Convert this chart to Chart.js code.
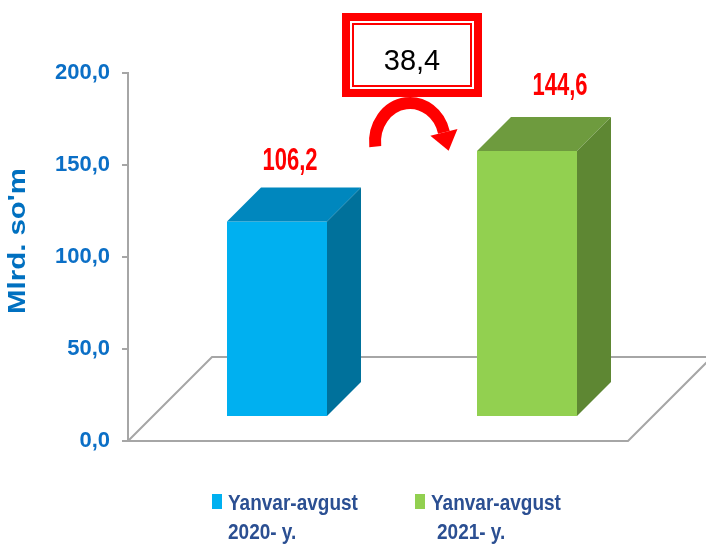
<!DOCTYPE html>
<html>
<head>
<meta charset="utf-8">
<script src="https://cdn.jsdelivr.net/npm/chart.js@4"></script>
<style>
  html, body { margin: 0; padding: 0; background: #fff; }
</style>
</head>
<body>
<canvas id="myChart" width="706" height="545"></canvas>
<script>
// data
var categories = [['Yanvar-avgust', '2020- y.'], ['Yanvar-avgust', '2021- y.']];
var values = [106.2, 144.6];
var change = 38.4;
var yTicks = [0, 50, 100, 150, 200];
var yTitle = "Mlrd. so'm";

// styles
var frontColors = ['#00B0F0', '#92D050'];
var topColors = ['#0087BE', '#6E9B3E'];
var sideColors = ['#00719B', '#5E8733'];
var FONT = '"Liberation Sans", Arial, sans-serif';
var FLOOR = 84;   // floor depth, drawn at 45 deg
var SHIFT = 24;   // bars stand this far behind the front edge
var DEPTH = 34;   // bar depth
var labelShift = [[13, -60], [33, -64]];

function fmt(v) { return v.toFixed(1).replace('.', ','); }

function stretchText(c, txt, x, y, sx, sy) {
  c.save();
  c.translate(x, y);
  c.scale(sx, sy);
  c.fillText(txt, 0, 0);
  c.restore();
}

var bar3d = {
  id: 'bar3d',
  beforeDatasetsDraw: function (chart) {
    var c = chart.ctx, a = chart.chartArea;
    c.save();
    c.strokeStyle = '#A6A6A6';
    c.lineWidth = 2;
    c.beginPath();
    c.moveTo(a.left, a.bottom);
    c.lineTo(a.left + FLOOR, a.bottom - FLOOR);
    c.lineTo(a.right + FLOOR, a.bottom - FLOOR);
    c.moveTo(a.left, a.bottom);
    c.lineTo(a.right, a.bottom);
    c.lineTo(a.right + FLOOR, a.bottom - FLOOR);
    c.stroke();
    c.restore();
    c.save();
    c.translate(SHIFT, -SHIFT);
  },
  afterDatasetsDraw: function (chart) {
    var c = chart.ctx;
    chart.getDatasetMeta(0).data.forEach(function (bar, i) {
      var l = bar.x - bar.width / 2, r = bar.x + bar.width / 2, t = bar.y, b = bar.base;
      c.fillStyle = topColors[i];
      c.beginPath();
      c.moveTo(l, t); c.lineTo(l + DEPTH, t - DEPTH); c.lineTo(r + DEPTH, t - DEPTH); c.lineTo(r, t);
      c.closePath(); c.fill();
      c.fillStyle = sideColors[i];
      c.beginPath();
      c.moveTo(r, t); c.lineTo(r + DEPTH, t - DEPTH); c.lineTo(r + DEPTH, b - DEPTH); c.lineTo(r, b);
      c.closePath(); c.fill();
    });
    c.restore();
  },
  afterDraw: function (chart) {
    var c = chart.ctx, a = chart.chartArea;
    var bars = chart.getDatasetMeta(0).data;

    // value labels
    c.save();
    c.font = 'bold 22px ' + FONT;
    c.fillStyle = '#FF0000';
    c.textAlign = 'center';
    c.textBaseline = 'middle';
    bars.forEach(function (bar, i) {
      stretchText(c, fmt(values[i]), bar.x + SHIFT + labelShift[i][0], bar.y - SHIFT + labelShift[i][1], 1, 1.4);
    });
    c.restore();

    // change box
    var bx = (bars[0].x + bars[1].x) / 2 + SHIFT + 10, by = a.top - 60;
    var w = 140, h = 84;
    c.save();
    c.fillStyle = '#FF0000';
    c.fillRect(bx - w / 2, by, w, h);
    c.fillStyle = '#FFFFFF';
    c.fillRect(bx - w / 2 + 8, by + 8, w - 16, h - 16);
    c.strokeStyle = '#FF0000';
    c.lineWidth = 2;
    c.strokeRect(bx - w / 2 + 11, by + 11, w - 22, h - 22);
    c.fillStyle = '#000000';
    c.font = '29px ' + FONT;
    c.textAlign = 'center';
    c.textBaseline = 'middle';
    c.fillText(fmt(change), bx, by + 49);

    // curved arrow
    var cx = bx - 2, cy = a.top + 69, rad = 37;
    var a0 = Math.PI - 0.12, a1 = 2 * Math.PI - 0.25;
    c.strokeStyle = '#FF0000';
    c.lineWidth = 12;
    c.beginPath();
    c.ellipse(cx, cy, rad - 2, rad + 2, 0, a0, a1);
    c.stroke();
    var ex = cx + (rad - 2) * Math.cos(a1), ey = cy + (rad + 2) * Math.sin(a1);
    var tx = -Math.sin(a1), ty = Math.cos(a1);
    c.fillStyle = '#FF0000';
    c.beginPath();
    c.moveTo(ex - ty * 14, ey + tx * 14);
    c.lineTo(ex + ty * 14, ey - tx * 14);
    c.lineTo(ex + tx * 19, ey + ty * 19);
    c.closePath();
    c.fill();
    c.restore();

    // y title
    c.save();
    c.fillStyle = '#0070C0';
    c.font = 'bold 23px ' + FONT;
    c.textAlign = 'center';
    c.textBaseline = 'middle';
    c.translate(19, 241);
    c.rotate(-Math.PI / 2);
    stretchText(c, yTitle, 0, 0, 1.28, 1);
    c.restore();

    // legend
    var lx = [212, 415];
    c.save();
    c.font = 'bold 19px ' + FONT;
    c.textAlign = 'left';
    c.textBaseline = 'alphabetic';
    categories.forEach(function (lines, i) {
      c.fillStyle = frontColors[i];
      c.fillRect(lx[i], 494, 10, 15);
      c.fillStyle = '#2B4F92';
      lines.forEach(function (s, k) {
        stretchText(c, s, lx[i] + 16 + (k && i ? 6 : 0), 510 + k * 29, 1, 1.2);
      });
    });
    c.restore();
  }
};

var ctx = document.getElementById('myChart').getContext('2d');
var myChart = new Chart(ctx, {
  type: 'bar',
  data: {
    labels: categories,
    datasets: [{
      label: 'Mlrd. so\'m',
      data: values,
      backgroundColor: frontColors,
      borderWidth: 0,
      barPercentage: 0.4,
      categoryPercentage: 1
    }]
  },
  options: {
    responsive: false,
    animation: false,
    layout: { padding: { top: 73, right: 78, bottom: 104, left: 0 } },
    plugins: { legend: { display: false }, tooltip: { enabled: false } },
    scales: {
      x: { display: false },
      y: {
        min: 0,
        max: 200,
        afterFit: function (s) { s.width = 128; },
        afterBuildTicks: function (s) { s.ticks = yTicks.map(function (v) { return { value: v }; }); },
        ticks: {
          padding: 12,
          color: '#0B6FC6',
          font: { family: FONT, size: 22, weight: 'bold' },
          callback: function (v) { return fmt(v); }
        },
        grid: { drawOnChartArea: false, tickLength: 6, color: '#A6A6A6', lineWidth: 2 },
        border: { color: '#A6A6A6', width: 2 }
      }
    }
  },
  plugins: [bar3d]
});
</script>
</body>
</html>
